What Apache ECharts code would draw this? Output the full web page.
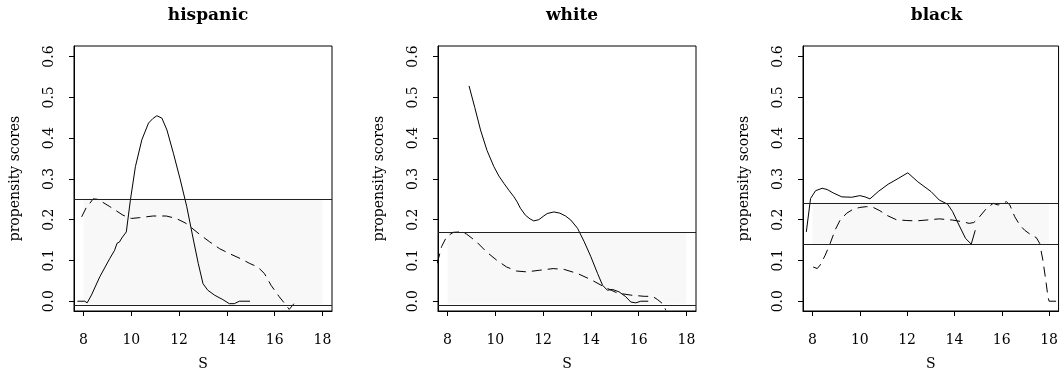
<!DOCTYPE html>
<html>
<head>
<meta charset="utf-8">
<script src="https://cdn.jsdelivr.net/npm/echarts@6/dist/echarts.min.js"></script>
<style>
html,body{margin:0;padding:0;background:#fff;}
#chart{width:1061px;height:383px;}
</style>
</head>
<body>
<div id="chart"></div>
<script>
// ---- data ----
const panelTitles = ['hispanic', 'white', 'black'];
const xTicks = [8, 10, 12, 14, 16, 18];
const yTicks = [0.0, 0.1, 0.2, 0.3, 0.4, 0.5, 0.6];
const xRange = [7.6, 18.4];
const yRange = [-0.024, 0.626];
const bandX = [8, 18];

const hispanicBounds = [-0.008, 0.252];
const whiteBounds = [-0.006, 0.170];
const blackBounds = [0.141, 0.243];

const hispanicSolid = [[7.74,0.0],[8.05,0.0],[8.15,-0.004],[8.33,0.015],[8.68,0.06],[9.1,0.105],[9.3,0.125],[9.4,0.142],[9.5,0.145],[9.6,0.155],[9.68,0.158],[9.79,0.17],[9.96,0.248],[10.17,0.33],[10.44,0.396],[10.72,0.437],[10.9,0.448],[11.07,0.455],[11.28,0.449],[11.49,0.42],[11.76,0.363],[12.04,0.30],[12.32,0.232],[12.6,0.15],[12.8,0.093],[13.0,0.043],[13.2,0.027],[13.48,0.015],[13.83,0.004],[14.1,-0.006],[14.31,-0.006],[14.52,0],[14.97,0]];
const hispanicDashed = [[7.92,0.207],[8.15,0.234],[8.26,0.24],[8.4,0.251],[8.6,0.25],[9.1,0.232],[9.65,0.211],[10.0,0.203],[10.35,0.205],[10.9,0.209],[11.46,0.209],[11.88,0.203],[12.29,0.191],[12.86,0.164],[13.27,0.146],[13.69,0.129],[14.1,0.117],[14.66,0.102],[14.94,0.093],[15.29,0.084],[15.57,0.068],[15.85,0.039],[16.19,0.011],[16.44,-0.007],[16.61,-0.02],[16.89,0]];

const whiteSolid = [[8.9,0.528],[9.14,0.475],[9.38,0.42],[9.65,0.37],[9.94,0.33],[10.15,0.307],[10.36,0.289],[10.57,0.272],[10.78,0.256],[10.92,0.243],[11.05,0.228],[11.26,0.211],[11.45,0.202],[11.61,0.197],[11.82,0.2],[12.0,0.208],[12.17,0.215],[12.45,0.219],[12.7,0.216],[12.94,0.209],[13.16,0.199],[13.44,0.179],[13.72,0.146],[14.0,0.109],[14.28,0.068],[14.49,0.039],[14.69,0.027],[14.9,0.029],[15.18,0.023],[15.46,0.011],[15.67,-0.002],[15.88,-0.004],[16.09,0],[16.4,0]];
const whiteDashed = [[7.57,0.093],[7.75,0.134],[7.96,0.158],[8.24,0.169],[8.52,0.17],[8.79,0.165],[9.21,0.146],[9.63,0.121],[10.05,0.101],[10.47,0.084],[10.89,0.074],[11.31,0.072],[11.86,0.076],[12.42,0.08],[12.88,0.078],[13.44,0.068],[14.0,0.053],[14.56,0.035],[15.11,0.02],[15.67,0.015],[16.23,0.012],[16.58,0.012],[16.79,0.004],[17.0,-0.006],[17.14,-0.022]];

const blackSolid = [[7.74,0.17],[7.92,0.252],[8.13,0.271],[8.41,0.277],[8.62,0.274],[8.9,0.265],[9.24,0.256],[9.66,0.255],[10.0,0.259],[10.22,0.256],[10.43,0.251],[10.78,0.269],[11.2,0.287],[11.62,0.301],[12.03,0.315],[12.45,0.293],[13.01,0.269],[13.36,0.248],[13.71,0.238],[13.92,0.22],[14.19,0.187],[14.47,0.154],[14.71,0.14],[14.88,0.174]];
const blackDashed = [[8.03,0.084],[8.2,0.08],[8.33,0.089],[8.54,0.113],[8.75,0.142],[8.96,0.175],[9.17,0.199],[9.45,0.216],[9.73,0.226],[10.0,0.23],[10.29,0.232],[10.57,0.23],[10.85,0.222],[11.13,0.211],[11.54,0.2],[11.96,0.198],[12.38,0.197],[12.8,0.199],[13.36,0.202],[13.92,0.199],[14.34,0.195],[14.62,0.191],[14.82,0.193],[15.03,0.205],[15.36,0.228],[15.64,0.24],[15.85,0.236],[15.99,0.24],[16.2,0.244],[16.34,0.236],[16.55,0.207],[16.76,0.187],[16.97,0.174],[17.25,0.162],[17.46,0.156],[17.6,0.142],[17.74,0.1],[17.88,0.043],[17.95,0.011],[18.0,0],[18.4,0]];

// ---- layout ----
const FONT = 'DejaVu Serif';
const gridsPos = [
  {left: 74, top: 46, width: 258, height: 265},
  {left: 438, top: 46, width: 258, height: 265},
  {left: 803, top: 46, width: 257, height: 265}
];
const solids = [hispanicSolid, whiteSolid, blackSolid];
const dasheds = [hispanicDashed, whiteDashed, blackDashed];
const bounds = [hispanicBounds, whiteBounds, blackBounds];

const option = {
  animation: false,
  backgroundColor: '#fff',
  title: [],
  grid: [],
  xAxis: [],
  yAxis: [],
  series: []
};

gridsPos.forEach((g, i) => {
  option.grid.push(Object.assign({
    show: true, borderColor: '#000', borderWidth: 1, backgroundColor: 'transparent',
    containLabel: false
  }, g));
  option.title.push({
    text: panelTitles[i],
    left: g.left + g.width / 2,
    top: 2,
    textAlign: 'center',
    textStyle: {fontFamily: FONT, fontWeight: 'bold', fontSize: 17, color: '#000'}
  });
  option.xAxis.push({
    type: 'value', gridIndex: i, min: xRange[0], max: xRange[1],
    name: 'S', nameLocation: 'middle', nameGap: 46,
    nameTextStyle: {fontFamily: FONT, fontSize: 14, color: '#000'},
    axisLine: {show: true, onZero: false, lineStyle: {color: '#000', width: 1}},
    axisTick: {show: true, length: 5, customValues: xTicks, lineStyle: {color: '#000'}},
    axisLabel: {show: true, customValues: xTicks, margin: 22, fontFamily: FONT, fontSize: 14, color: '#000'},
    splitLine: {show: false}
  });
  option.yAxis.push({
    type: 'value', gridIndex: i, min: yRange[0], max: yRange[1],
    name: 'propensity scores', nameLocation: 'middle', nameGap: 52, nameRotate: 90,
    nameTextStyle: {fontFamily: FONT, fontSize: 14, color: '#000'},
    axisLine: {show: true, onZero: false, lineStyle: {color: '#000', width: 1}},
    axisTick: {show: true, length: 5, customValues: yTicks, lineStyle: {color: '#000'}},
    axisLabel: {show: true, customValues: yTicks, rotate: 90, margin: 18, fontFamily: FONT, fontSize: 14, color: '#000',
      formatter: v => v.toFixed(1)},
    splitLine: {show: false}
  });
  option.series.push({
    type: 'line', xAxisIndex: i, yAxisIndex: i, data: solids[i],
    showSymbol: false, symbol: 'none', clip: true, z: 3,
    lineStyle: {color: '#000', width: 1, type: 'solid'},
    markArea: {
      silent: true,
      itemStyle: {color: '#f8f8f8'},
      data: [[{xAxis: bandX[0], yAxis: bounds[i][0]}, {xAxis: bandX[1], yAxis: bounds[i][1]}]]
    },
    markLine: {
      silent: true, symbol: ['none', 'none'], label: {show: false},
      lineStyle: {color: '#222', width: 1, type: 'solid'},
      data: [{yAxis: bounds[i][0]}, {yAxis: bounds[i][1]}]
    }
  });
  option.series.push({
    type: 'line', xAxisIndex: i, yAxisIndex: i, data: dasheds[i],
    showSymbol: false, symbol: 'none', clip: true, z: 3,
    lineStyle: {color: '#000', width: 1, type: [10, 6]}
  });
});

const chart = echarts.init(document.getElementById('chart'), null, {renderer: 'canvas'});
chart.setOption(option);
</script>
</body>
</html>
